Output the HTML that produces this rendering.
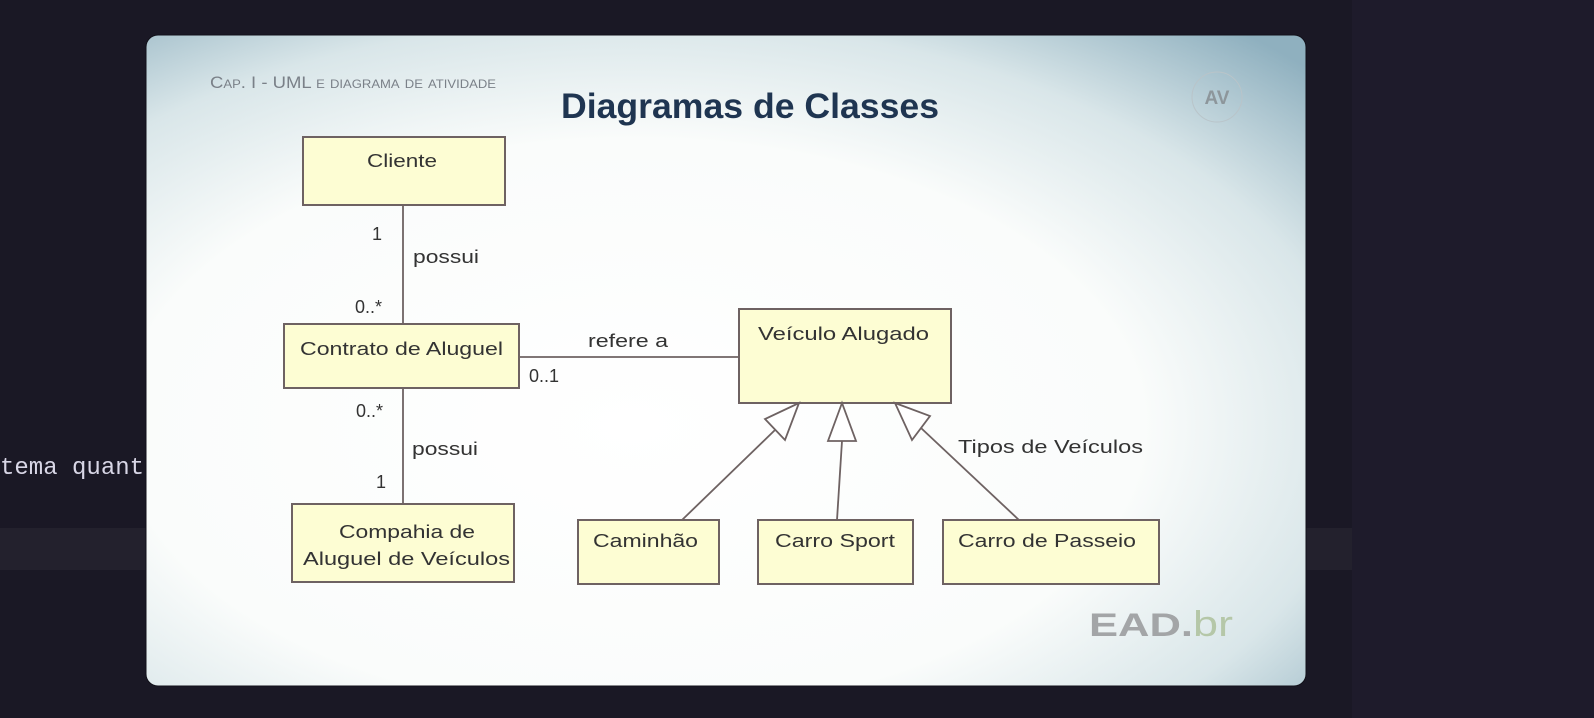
<!DOCTYPE html>
<html><head><meta charset="utf-8"><style>
html,body{margin:0;padding:0;background:#1a1825;}
body{width:1594px;height:718px;overflow:hidden;position:relative;}
</style></head><body>
<svg width="1594" height="718" viewBox="0 0 1594 718" xmlns="http://www.w3.org/2000/svg" style="position:absolute;left:0;top:0">
<defs>
<radialGradient id="bg" cx="0.42" cy="0.6" r="0.8">
<stop offset="0" stop-color="#ffffff"/>
<stop offset="0.55" stop-color="#fafcfb"/>
<stop offset="0.78" stop-color="#d9e6e9"/>
<stop offset="1" stop-color="#8fb0bf"/>
</radialGradient>
</defs>
<rect x="0" y="0" width="1594" height="718" fill="#1a1825"/>
<rect x="0" y="528" width="1352" height="42" fill="#23212d"/>
<rect x="1352" y="0" width="242" height="718" fill="#1e1b2b"/>
<text x="0" y="474" font-family="Liberation Mono, monospace" font-size="24" fill="#d8d6e6">tema quanto</text>
<rect x="146" y="35" width="1160" height="651" rx="12" fill="url(#bg)" stroke="#12111a" stroke-width="1"/>
<text x="210" y="88" font-family="Liberation Sans, sans-serif" font-size="17" fill="#7a8088" style="font-variant:small-caps" textLength="286" lengthAdjust="spacingAndGlyphs">Cap. I - UML e diagrama de atividade</text>
<text x="561" y="118" font-family="Liberation Sans, sans-serif" font-size="35" font-weight="bold" fill="#1f3551" textLength="378" lengthAdjust="spacingAndGlyphs">Diagramas de Classes</text>
<circle cx="1217" cy="97" r="25" fill="none" stroke="#b9c4c9" stroke-width="1"/>
<text x="1217" y="104" text-anchor="middle" font-family="Liberation Sans, sans-serif" font-size="19" font-weight="bold" fill="#8d969b">AV</text>
<g stroke="#6e6262" stroke-width="2" fill="#fdfdd3">
<rect x="303" y="137" width="202" height="68"/>
<rect x="284" y="324" width="235" height="64"/>
<rect x="292" y="504" width="222" height="78"/>
<rect x="739" y="309" width="212" height="94"/>
<rect x="578" y="520" width="141" height="64"/>
<rect x="758" y="520" width="155" height="64"/>
<rect x="943" y="520" width="216" height="64"/>
</g>
<g stroke="#6e6262" stroke-width="1.8" fill="none">
<line x1="403" y1="205" x2="403" y2="324"/>
<line x1="403" y1="388" x2="403" y2="504"/>
<line x1="519" y1="357" x2="739" y2="357"/>
<line x1="682" y1="520" x2="775" y2="430"/>
<line x1="842" y1="441" x2="837" y2="520"/>
<line x1="921" y1="428" x2="1019" y2="520"/>
<polygon points="799,403 765,419 785,440" fill="#fff"/>
<polygon points="842,403 828,441 856,441" fill="#fff"/>
<polygon points="895,403 930,416 912,440" fill="#fff"/>
</g>
<g font-family="Liberation Sans, sans-serif" font-size="18" fill="#333">
<text x="367" y="167" textLength="70" lengthAdjust="spacingAndGlyphs">Cliente</text>
<text x="372" y="240">1</text>
<text x="413" y="263" textLength="66" lengthAdjust="spacingAndGlyphs">possui</text>
<text x="355" y="313">0..*</text>
<text x="300" y="355" textLength="203" lengthAdjust="spacingAndGlyphs">Contrato de Aluguel</text>
<text x="588" y="347" textLength="80" lengthAdjust="spacingAndGlyphs">refere a</text>
<text x="529" y="382">0..1</text>
<text x="758" y="340" textLength="171" lengthAdjust="spacingAndGlyphs">Veículo Alugado</text>
<text x="356" y="417">0..*</text>
<text x="412" y="455" textLength="66" lengthAdjust="spacingAndGlyphs">possui</text>
<text x="376" y="488">1</text>
<text x="339" y="538" textLength="136" lengthAdjust="spacingAndGlyphs">Compahia de</text>
<text x="303" y="565" textLength="207" lengthAdjust="spacingAndGlyphs">Aluguel de Veículos</text>
<text x="593" y="547" textLength="105" lengthAdjust="spacingAndGlyphs">Caminhão</text>
<text x="775" y="547" textLength="120" lengthAdjust="spacingAndGlyphs">Carro Sport</text>
<text x="958" y="547" textLength="178" lengthAdjust="spacingAndGlyphs">Carro de Passeio</text>
<text x="958" y="453" textLength="185" lengthAdjust="spacingAndGlyphs">Tipos de Veículos</text>
</g>
<text x="1089" y="636" font-family="Liberation Sans, sans-serif" font-size="32" font-weight="bold" fill="#a3a5a7" textLength="104" lengthAdjust="spacingAndGlyphs">EAD.</text>
<text x="1193" y="636" font-family="Liberation Sans, sans-serif" font-size="36" fill="#b5c7a8" textLength="40" lengthAdjust="spacingAndGlyphs">br</text>
</svg>
</body></html>
